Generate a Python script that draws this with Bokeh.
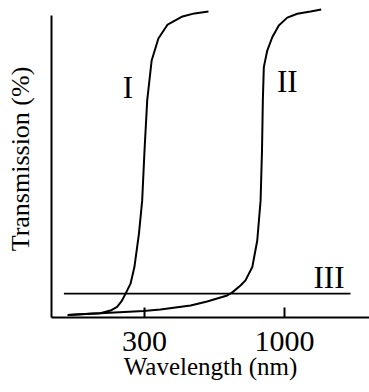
from bokeh.plotting import figure
from bokeh.models import FixedTicker, Range1d, NumeralTickFormatter, ColumnDataSource
from bokeh.core.properties import value
from bokeh.embed import file_html
from bokeh.resources import INLINE

# ---- data (wavelength in nm, transmission in %) ----
curve1_wl = [155, 193, 205, 224, 237, 246, 255, 266, 275, 286, 294, 300, 307, 319, 338, 366, 416, 461, 520]
curve1_t = [0.8, 1.3, 1.4, 2.3, 3.5, 5.3, 7.9, 11.2, 16.7, 27.8, 38.7, 55.3, 71.9, 85.1, 92.4, 97.0, 99.7, 100.7, 101.3]

curve2_wl = [155, 205, 297, 344, 446, 514, 611, 640, 685, 715, 758, 791, 814, 824, 830, 837, 862, 900, 952, 1024, 1116, 1251, 1371]
curve2_t = [0.8, 1.4, 2.15, 2.65, 4.0, 5.3, 7.3, 8.4, 10.6, 12.3, 16.7, 25.5, 38.7, 55.3, 71.9, 82.9, 88.4, 92.8, 96.7, 99.3, 100.6, 101.3, 102.0]

curve3_wl = [150, 1764]
curve3_t = [7.9, 7.9]

x_ticks = [300, 1000]
curve_names = ["I", "II", "III"]
label_wl = [260, 1024, 1466]
label_t = [76.0, 78.1, 13.2]

FONT = "Liberation Serif"

p = figure(width=369, height=392, x_axis_type="log",
           x_range=Range1d(134.8, 2077), y_range=Range1d(0, 104.97),
           output_backend="svg", toolbar_location=None,
           min_border_left=51, min_border_right=0, min_border_top=0, min_border_bottom=75)

p.background_fill_color = "white"
p.border_fill_color = "white"
p.outline_line_color = None
p.grid.visible = False

p.line(curve1_wl, curve1_t, line_color="black", line_width=2)
p.line(curve2_wl, curve2_t, line_color="black", line_width=2)
p.line(curve3_wl, curve3_t, line_color="black", line_width=1.8)

src = ColumnDataSource(dict(x=label_wl, y=label_t, t=curve_names))
p.text(x="x", y="y", text="t", source=src, text_font=value(FONT), text_font_size="31px",
       text_align="center", text_baseline="middle", text_color="black")

# x axis
xa = p.xaxis[0]
xa.ticker = FixedTicker(ticks=x_ticks)
xa.formatter = NumeralTickFormatter(format="0")
xa.axis_line_width = 2
xa.axis_line_color = "black"
xa.major_tick_in = 10
xa.major_tick_out = 0
xa.major_tick_line_width = 2
xa.minor_tick_line_color = None
xa.major_label_text_font = FONT
xa.major_label_text_font_size = "30px"
xa.major_label_text_color = "black"
xa.major_label_standoff = 14
xa.axis_label = "Wavelength (nm)"
xa.axis_label_text_font = FONT
xa.axis_label_text_font_size = "25px"
xa.axis_label_text_font_style = "normal"
xa.axis_label_text_color = "black"
xa.axis_label_standoff = -1

# y axis
ya = p.yaxis[0]
ya.ticker = FixedTicker(ticks=[])
ya.bounds = (0, 100)
ya.axis_line_width = 2
ya.axis_line_color = "black"
ya.major_tick_line_color = None
ya.minor_tick_line_color = None
ya.major_label_text_font_size = "0px"
ya.axis_label = "Transmission (%)"
ya.axis_label_text_font = FONT
ya.axis_label_text_font_size = "26px"
ya.axis_label_text_font_style = "normal"
ya.axis_label_text_color = "black"
ya.axis_label_standoff = 17

open("out.html", "w").write(file_html(p, INLINE))
